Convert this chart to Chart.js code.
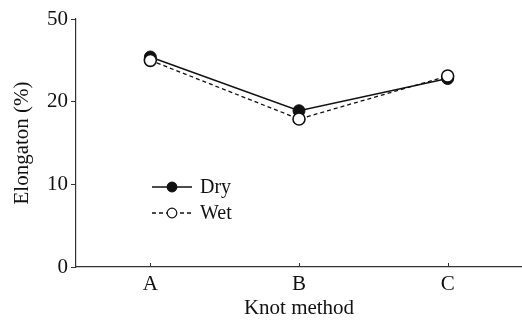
<!DOCTYPE html>
<html>
<head>
<meta charset="utf-8">
<script src="https://cdn.jsdelivr.net/npm/chart.js@4"></script>
<style>
  html, body { margin: 0; padding: 0; background: #fff; overflow: hidden; }
  canvas { display: block; }
</style>
</head>
<body>
<canvas id="chart" width="522" height="321"></canvas>
<script>
// Knot methods on the x axis
const categories = ['A', 'B', 'C'];

// Elongation (%) per knot method
const dryValues = [25.4, 18.9, 22.8];
const wetValues = [25.0, 17.9, 23.1];

// The printed y axis labels (top tick is printed as 50)
const yTickLabels = ['0', '10', '20', '50'];

const FONT = 'Liberation Serif, Times New Roman, serif';
const INK = '#111';

// Small upward tick marks on the x axis + legend drawn like the original
const extras = {
    id: 'extras',
    afterDraw(chart) {
        const ctx = chart.ctx;
        const x = chart.scales.x;
        const area = chart.chartArea;
        ctx.save();
        ctx.strokeStyle = '#333';
        ctx.lineWidth = 1;
        categories.forEach((c, i) => {
            const px = Math.round(x.getPixelForValue(i)) + 0.5;
            ctx.beginPath();
            ctx.moveTo(px, area.bottom);
            ctx.lineTo(px, area.bottom - 4);
            ctx.stroke();
        });

        // Legend
        const items = [
            { label: 'Dry', dash: [], fill: INK, y: 187 },
            { label: 'Wet', dash: [4, 3], fill: '#fff', y: 213 }
        ];
        items.forEach(it => {
            ctx.strokeStyle = INK;
            ctx.lineWidth = 1.4;
            ctx.setLineDash(it.dash);
            ctx.beginPath();
            ctx.moveTo(152, it.y);
            ctx.lineTo(192, it.y);
            ctx.stroke();
            ctx.setLineDash([]);
            ctx.beginPath();
            ctx.arc(172, it.y, 4.8, 0, Math.PI * 2);
            ctx.fillStyle = it.fill;
            ctx.fill();
            ctx.lineWidth = 1.2;
            ctx.stroke();
            ctx.fillStyle = INK;
            ctx.font = '20px ' + FONT;
            ctx.textBaseline = 'middle';
            ctx.textAlign = 'left';
            ctx.fillText(it.label, 200, it.y + 1);
        });
        ctx.restore();
    }
};

new Chart(document.getElementById('chart').getContext('2d'), {
    type: 'line',
    data: {
        labels: categories,
        datasets: [
            {
                label: 'Dry',
                data: dryValues,
                borderColor: INK,
                borderWidth: 1.5,
                pointRadius: 6,
                pointBackgroundColor: INK,
                pointBorderColor: INK,
                pointBorderWidth: 1,
                order: 2
            },
            {
                label: 'Wet',
                data: wetValues,
                borderColor: INK,
                borderWidth: 1.3,
                borderDash: [4, 3],
                pointRadius: 6,
                pointBackgroundColor: '#fff',
                pointBorderColor: INK,
                pointBorderWidth: 1.6,
                order: 1
            }
        ]
    },
    options: {
        responsive: false,
        animation: false,
        layout: { autoPadding: false, padding: { top: 19, right: 0, left: 0, bottom: 0 } },
        plugins: {
            legend: { display: false },
            tooltip: { enabled: false }
        },
        scales: {
            x: {
                offset: true,
                grid: { display: false, drawTicks: false },
                border: { color: '#333', width: 1.2 },
                ticks: {
                    color: INK,
                    font: { family: FONT, size: 21 },
                    padding: 5,
                    maxRotation: 0
                },
                title: {
                    display: true,
                    text: 'Knot method',
                    color: INK,
                    font: { family: FONT, size: 21 },
                    padding: { top: 0, bottom: 0 }
                },
                afterFit(scale) {
                    scale.height = 54;
                    scale.paddingLeft = 0;
                    scale.paddingRight = 0;
                }
            },
            y: {
                min: 0,
                max: 30,
                grid: { drawOnChartArea: false, drawTicks: true, tickLength: 5, color: '#333' },
                border: { color: '#333', width: 1.2 },
                ticks: {
                    stepSize: 10,
                    color: INK,
                    font: { family: FONT, size: 21 },
                    padding: 3,
                    callback: (v, i) => yTickLabels[i]
                },
                title: {
                    display: true,
                    text: 'Elongaton (%)',
                    color: INK,
                    font: { family: FONT, size: 21 },
                    padding: { top: 10, bottom: 4 }
                },
                afterFit(scale) { scale.width = 76; }
            }
        }
    },
    plugins: [extras]
});
</script>
</body>
</html>
